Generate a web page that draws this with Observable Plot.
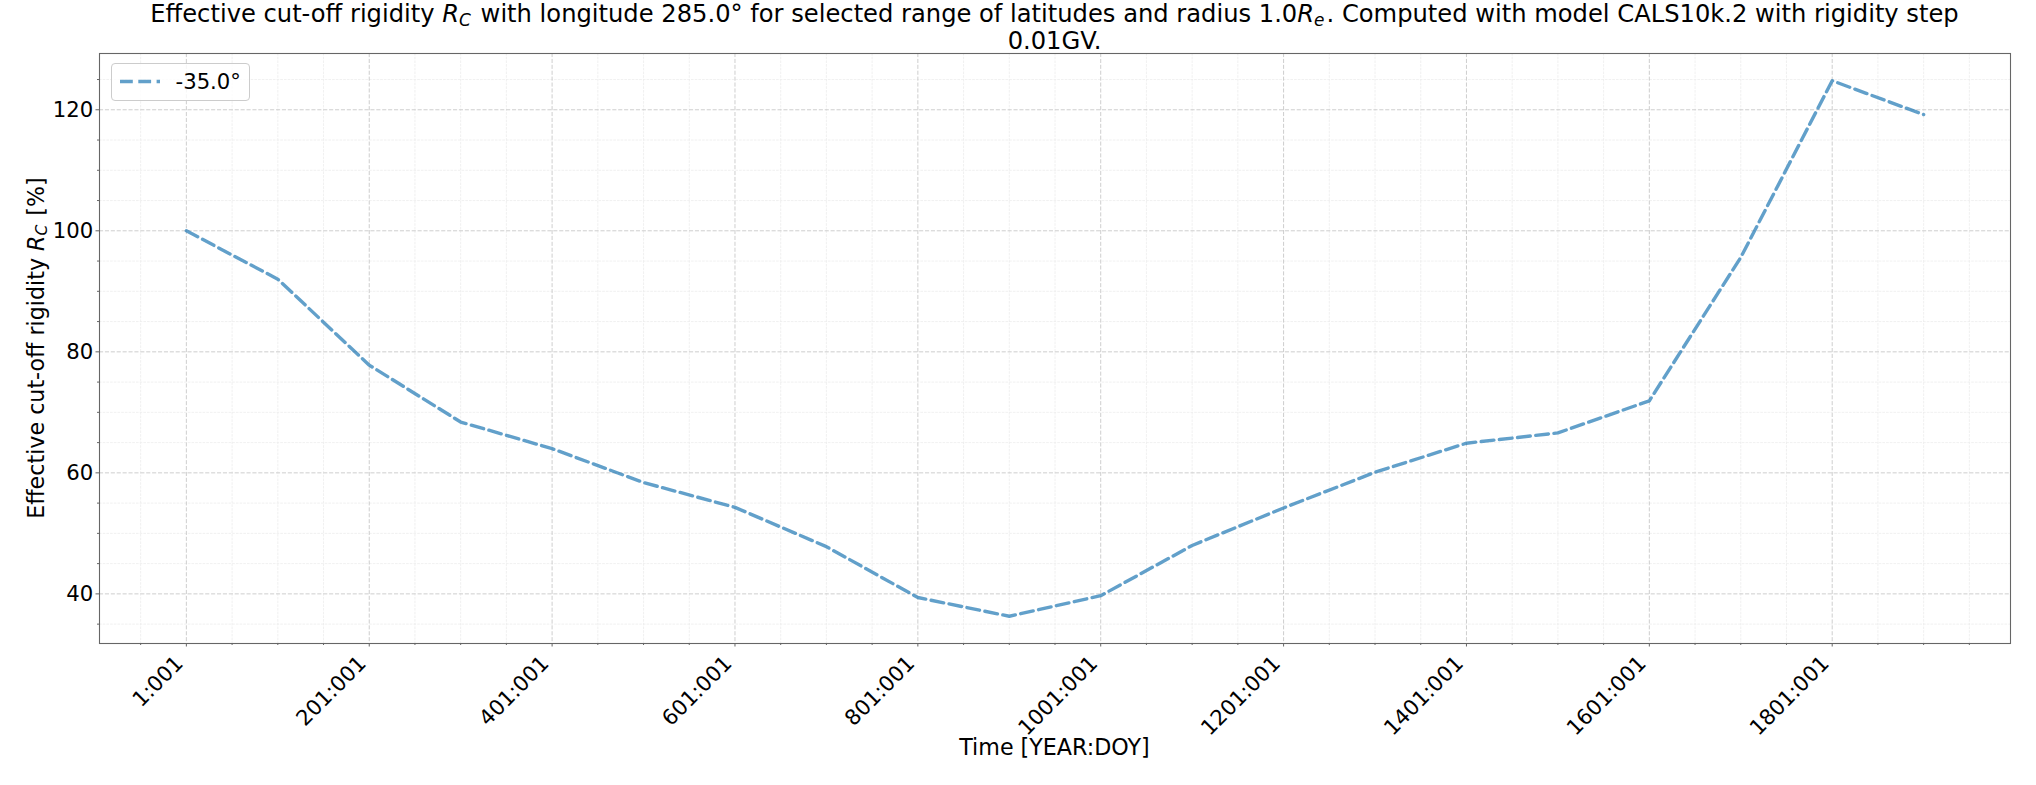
<!DOCTYPE html>
<html>
<head>
<meta charset="utf-8">
<script src="https://cdn.jsdelivr.net/npm/d3@7"></script>
<script src="https://cdn.jsdelivr.net/npm/@observablehq/plot@0.6"></script>
<style>
  html, body { margin: 0; padding: 0; background: #fff; }
  #wrap { position: relative; width: 2036px; height: 785px; font-family: "DejaVu Sans", sans-serif; color: #000; overflow: hidden; }
  #chart { position: absolute; left: 0; top: 0; }
  .title { position: absolute; left: 99px; width: 1911px; text-align: center; font-size: 24.2px; line-height: 28.2px; white-space: nowrap; }
  .xlabel { position: absolute; left: 99px; width: 1911px; top: 734px; text-align: center; font-size: 22.2px; line-height: 26px; white-space: nowrap; }
  .ylabel { position: absolute; left: 35.5px; top: 348px; transform: translate(-50%, -50%) rotate(-90deg); font-size: 22.2px; line-height: 26px; white-space: nowrap; }
  i { font-style: italic; }
  sub { font-size: 0.7em; vertical-align: -0.22em; line-height: 0; margin-right: 0.12em; }
  .legend { position: absolute; left: 110.5px; top: 62.5px; width: 137px; height: 36px; border: 1px solid #cccccc; border-radius: 4px; background: rgba(255,255,255,0.8); }
  .legend svg { position: absolute; left: 7px; top: 0; }
  .legend span { position: absolute; left: 64px; top: 4px; font-size: 21.2px; line-height: 28px; white-space: nowrap; }
</style>
</head>
<body>
<div id="wrap">
  <div id="chart"></div>
  <div class="title" style="top:0px">Effective cut-off rigidity <i>R</i><sub><i>C</i></sub> with longitude 285.0° for selected range of latitudes and radius 1.0<i>R</i><sub><i>e</i></sub>. Computed with model CALS10k.2 with rigidity step</div>
  <div class="title" style="top:27px">0.01GV.</div>
  <div class="xlabel">Time [YEAR:DOY]</div>
  <div class="ylabel">Effective cut-off rigidity <i>R</i><sub><i>C</i></sub> [%]</div>
  <div class="legend" id="legend"></div>
</div>
<script>
// ---- data ----
const years = [1, 101, 201, 301, 401, 501, 601, 701, 801, 901, 1001, 1101, 1201, 1301, 1401, 1501, 1601, 1701, 1801, 1901];
const rigidityPct = [100.0, 92.0, 77.8, 68.4, 64.0, 58.4, 54.3, 47.8, 39.4, 36.3, 39.7, 48.0, 54.2, 60.1, 64.9, 66.6, 71.9, 95.6, 124.8, 119.2];
const seriesName = "-35.0°";
const xTickYears = [1, 201, 401, 601, 801, 1001, 1201, 1401, 1601, 1801];
const xTickLabels = ["1:001", "201:001", "401:001", "601:001", "801:001", "1001:001", "1201:001", "1401:001", "1601:001", "1801:001"];
const yTicks = [40, 60, 80, 100, 120];
const xDomain = [-94, 1996];
const yDomain = [31.8, 129.3];

const xMinor = d3.range(-49, 1996, 50).filter(v => !xTickYears.includes(v));
const yMinor = d3.range(35, 130, 5).filter(v => !yTicks.includes(v));

const data = years.map((y, i) => ({year: y, rc: rigidityPct[i], series: seriesName}));

const lineColor = "#1f77b4";
const frameColor = "#666666";
const tickFont = 21.2;

const chart = Plot.plot({
  width: 2036,
  height: 785,
  marginLeft: 99,
  marginRight: 26,
  marginTop: 53,
  marginBottom: 142,
  style: {fontFamily: "DejaVu Sans, sans-serif", background: "white", overflow: "visible"},
  x: {domain: xDomain},
  y: {domain: yDomain},
  marks: [
    Plot.gridX(xMinor, {stroke: "#ececec", strokeOpacity: 1, strokeWidth: 0.8, strokeDasharray: "2.6,1.1"}),
    Plot.gridY(yMinor, {stroke: "#ececec", strokeOpacity: 1, strokeWidth: 0.8, strokeDasharray: "2.6,1.1"}),
    Plot.gridX(xTickYears, {stroke: "#c8c8c8", strokeOpacity: 1, strokeWidth: 0.9, strokeDasharray: "4.1,1.8"}),
    Plot.gridY(yTicks, {stroke: "#c8c8c8", strokeOpacity: 1, strokeWidth: 0.9, strokeDasharray: "4.1,1.8"}),
    Plot.line(data, {x: "year", y: "rc", stroke: lineColor, strokeOpacity: 0.7, strokeWidth: 3.4, strokeDasharray: "12.8,5.5"}),
    Plot.frame({stroke: frameColor, strokeWidth: 1.1}),
    Plot.axisX(xTickYears, {anchor: "bottom", tickSize: 3.5, tickFormat: () => "", stroke: frameColor, label: null}),
    Plot.axisX(xMinor, {anchor: "bottom", tickSize: 2, tickFormat: () => "", stroke: frameColor, label: null}),
    Plot.axisY(yTicks, {anchor: "left", tickSize: 3.5, tickFormat: () => "", stroke: frameColor, label: null}),
    Plot.axisY(yMinor, {anchor: "left", tickSize: 2, tickFormat: () => "", stroke: frameColor, label: null}),
    Plot.text(xTickYears, {x: d => d, frameAnchor: "bottom", text: (d, i) => xTickLabels[i], rotate: -45, textAnchor: "end", lineAnchor: "bottom", dx: -2, dy: 21.3, fontSize: tickFont, fill: "black"}),
    Plot.text(yTicks, {y: d => d, frameAnchor: "left", text: d => String(d), textAnchor: "end", dx: -6.3, fontSize: tickFont, fill: "black"})
  ]
});
document.getElementById("chart").appendChild(chart);

// legend (decoration)
const legend = document.getElementById("legend");
legend.innerHTML = `<svg width="44" height="36"><line x1="1" y1="17.5" x2="41" y2="17.5" stroke="${lineColor}" stroke-opacity="0.7" stroke-width="3.4" stroke-dasharray="12.8,5.5"/></svg><span>${seriesName}</span>`;
</script>
</body>
</html>
